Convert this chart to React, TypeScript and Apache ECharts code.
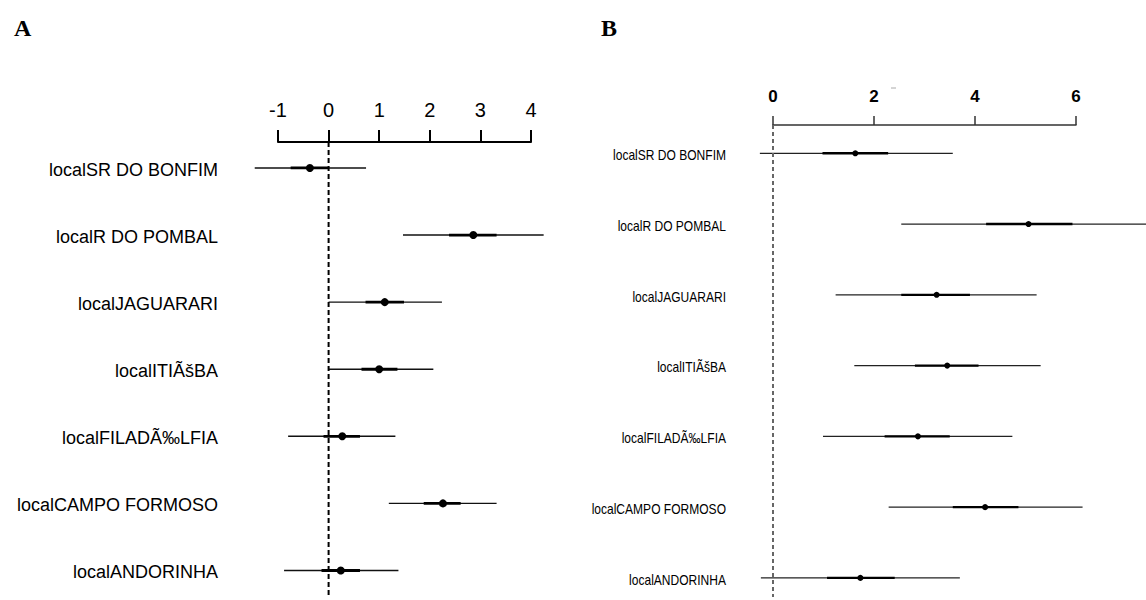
import React, { useEffect, useRef } from "react";
import * as echarts from "echarts";

// Categories (row labels, top to bottom)
const locais = [
  "localSR DO BONFIM",
  "localR DO POMBAL",
  "localJAGUARARI",
  "localITIÃšBA",
  "localFILADÃ‰LFIA",
  "localCAMPO FORMOSO",
  "localANDORINHA",
];

// Panel A: estimates and intervals
const estA = [-0.37, 2.86, 1.11, 1.0, 0.27, 2.26, 0.24];
const lo95A = [-1.46, 1.47, 0.0, 0.0, -0.8, 1.19, -0.88];
const hi95A = [0.74, 4.25, 2.24, 2.07, 1.32, 3.32, 1.38];
const lo50A = [-0.75, 2.38, 0.73, 0.65, -0.1, 1.88, -0.14];
const hi50A = [0.0, 3.32, 1.49, 1.36, 0.62, 2.61, 0.62];

// Panel B: estimates and intervals
const estB = [1.63, 5.06, 3.24, 3.45, 2.87, 4.2, 1.73];
const lo95B = [-0.26, 2.54, 1.24, 1.61, 0.99, 2.29, -0.24];
const hi95B = [3.56, 7.58, 5.22, 5.3, 4.74, 6.13, 3.7];
const lo50B = [0.98, 4.22, 2.54, 2.81, 2.21, 3.56, 1.07];
const hi50B = [2.28, 5.93, 3.9, 4.07, 3.5, 4.86, 2.41];

// Axis ranges
const xMinA = -1, xMaxA = 4, xStepA = 1;
const xMinB = 0, xMaxB = 6, xStepB = 2;

function buildData(lo95: number[], hi95: number[], lo50: number[], hi50: number[], est: number[]) {
  return locais.map((_, i) => [i, lo95[i], hi95[i], lo50[i], hi50[i], est[i]]);
}

function makeRender(cfg: {
  xMin: number;
  labelGap: number;
  font: string;
  scaleX: number;
  thin: number;
  thick: number;
  r: number;
  thinColor: string;
  labelDy: number;
}) {
  return (params: any, api: any) => {
    const i = api.value(0);
    const a = api.coord([api.value(1), i]);
    const b = api.coord([api.value(2), i]);
    const c = api.coord([api.value(3), i]);
    const d = api.coord([api.value(4), i]);
    const e = api.coord([api.value(5), i]);
    const left = api.coord([cfg.xMin, i]);
    return {
      type: "group",
      children: [
        {
          type: "line",
          shape: { x1: a[0], y1: a[1], x2: b[0], y2: b[1] },
          style: { stroke: cfg.thinColor, lineWidth: cfg.thin },
        },
        {
          type: "line",
          shape: { x1: c[0], y1: c[1], x2: d[0], y2: d[1] },
          style: { stroke: "#000", lineWidth: cfg.thick },
        },
        {
          type: "circle",
          shape: { cx: e[0], cy: e[1], r: cfg.r },
          style: { fill: "#000" },
        },
        {
          type: "text",
          x: left[0] - cfg.labelGap,
          y: left[1] + cfg.labelDy,
          scaleX: cfg.scaleX,
          style: {
            text: locais[i],
            font: cfg.font,
            fill: "#000",
            align: "right",
            verticalAlign: "middle",
          },
        },
      ],
    };
  };
}

export default function App() {
  const ref = useRef<HTMLDivElement>(null);
  useEffect(() => {
    if (!ref.current) return;
    const chart = echarts.init(ref.current, null, { renderer: "svg" });
    const yMinA = -0.387, yMaxA = 6.41;
    const yMinB = -0.4, yMaxB = 6.27;
    const option: any = {
      animation: false,
      backgroundColor: "#fff",
      grid: [
        { left: 278, right: 615, top: 142, bottom: 2 },
        { left: 773, right: 70, top: 125, bottom: 3 },
      ],
      xAxis: [
        {
          type: "value",
          gridIndex: 0,
          position: "top",
          min: xMinA,
          max: xMaxA,
          interval: xStepA,
          axisLine: { show: true, onZero: false, lineStyle: { color: "#000", width: 2 } },
          axisTick: { show: true, length: 12, lineStyle: { color: "#000", width: 2 } },
          axisLabel: { color: "#000", fontSize: 20, fontFamily: "Liberation Sans, Arial", margin: 22 },
          splitLine: { show: false },
        },
        {
          type: "value",
          gridIndex: 1,
          position: "top",
          min: xMinB,
          max: xMaxB,
          interval: xStepB,
          axisLine: { show: true, onZero: false, lineStyle: { color: "#333", width: 1.5 } },
          axisTick: { show: true, length: 9, lineStyle: { color: "#333", width: 1.5 } },
          axisLabel: { color: "#000", fontSize: 17, fontWeight: "bold", fontFamily: "Liberation Sans, Arial", margin: 20 },
          splitLine: { show: false },
        },
      ],
      yAxis: [
        { type: "value", gridIndex: 0, inverse: true, min: yMinA, max: yMaxA, show: false, splitLine: { show: false } },
        { type: "value", gridIndex: 1, inverse: true, min: yMinB, max: yMaxB, show: false, splitLine: { show: false } },
      ],
      series: [
        {
          type: "line",
          xAxisIndex: 0,
          yAxisIndex: 0,
          data: [[0, yMinA], [0, yMaxA]],
          symbol: "none",
          silent: true,
          lineStyle: { color: "#000", width: 2, type: [5, 3] },
        },
        {
          type: "custom",
          xAxisIndex: 0,
          yAxisIndex: 0,
          clip: false,
          encode: { x: [1, 2, 3, 4, 5], y: 0 },
          data: buildData(lo95A, hi95A, lo50A, hi50A, estA),
          renderItem: makeRender({
            xMin: xMinA,
            labelGap: 60,
            font: "18px 'Liberation Sans', Arial, sans-serif",
            scaleX: 1,
            thin: 1.4,
            thick: 2.8,
            r: 4,
            thinColor: "#111",
            labelDy: 2,
          }),
        },
        {
          type: "line",
          xAxisIndex: 1,
          yAxisIndex: 1,
          data: [[0, yMinB], [0, yMaxB]],
          symbol: "none",
          silent: true,
          lineStyle: { color: "#666", width: 2, type: [4, 3] },
        },
        {
          type: "custom",
          xAxisIndex: 1,
          yAxisIndex: 1,
          clip: false,
          encode: { x: [1, 2, 3, 4, 5], y: 0 },
          data: buildData(lo95B, hi95B, lo50B, hi50B, estB),
          renderItem: makeRender({
            xMin: xMinB,
            labelGap: 47,
            font: "14px 'Liberation Sans', Arial, sans-serif",
            scaleX: 0.86,
            thin: 1.3,
            thick: 2.4,
            r: 3,
            thinColor: "#222",
            labelDy: 2,
          }),
        },
      ],
      graphic: [
        {
          type: "text",
          left: 14,
          top: 16,
          style: { text: "A", font: "bold 24px 'Liberation Serif', 'Times New Roman', serif", fill: "#000" },
        },
        {
          type: "text",
          left: 601,
          top: 16,
          style: { text: "B", font: "bold 24px 'Liberation Serif', 'Times New Roman', serif", fill: "#000" },
        },
        {
          type: "line",
          shape: { x1: 891, y1: 88, x2: 896, y2: 88 },
          style: { stroke: "#aaa", lineWidth: 1 },
        },
      ],
    };
    chart.setOption(option);
    return () => chart.dispose();
  }, []);
  return (
    <div
      ref={ref}
      style={{ position: "fixed", left: 0, top: 0, width: 1146, height: 600, background: "#fff" }}
    />
  );
}
